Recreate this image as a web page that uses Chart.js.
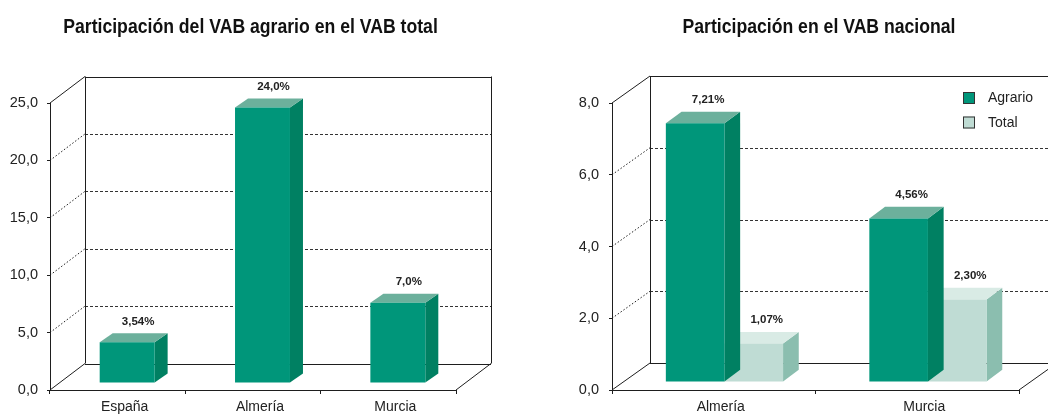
<!DOCTYPE html>
<html><head><meta charset="utf-8">
<script src="https://cdn.jsdelivr.net/npm/chart.js@4.4.1/dist/chart.umd.min.js"></script>
<style>
html,body{margin:0;padding:0;background:#fff;overflow:hidden;width:1048px;height:414px}
#c1{position:absolute;left:0;top:0}
#c2{position:absolute;left:524px;top:0}
</style></head><body>
<canvas id="c1" width="524" height="414"></canvas>
<canvas id="c2" width="524" height="414"></canvas>
<script>
// ---- data ----
const title1 = 'Participación del VAB agrario en el VAB total';
const categories1 = ['España', 'Almería', 'Murcia'];
const values1 = [3.54, 24.0, 7.0];
const valueLabels1 = ['3,54%', '24,0%', '7,0%'];
const yTicks1 = ['0,0', '5,0', '10,0', '15,0', '20,0', '25,0'];

const title2 = 'Participación en el VAB nacional';
const categories2 = ['Almería', 'Murcia'];
const seriesNames2 = ['Agrario', 'Total'];
const agrario2 = [7.21, 4.56];
const total2 = [1.07, 2.30];
const valueLabelsAgrario2 = ['7,21%', '4,56%'];
const valueLabelsTotal2 = ['1,07%', '2,30%'];
const yTicks2 = ['0,0', '2,0', '4,0', '6,0', '8,0'];

// ---- styles ----
const FONT = '"Liberation Sans", Arial, Helvetica, sans-serif';
const LINE = '#1e1e1e';
const GREEN = {front: '#00967A', side: '#008062', top: '#6CB09C'};
const LIGHT = {front: '#BFDCD4', side: '#8BBEAF', top: '#D9EBE5'};
Chart.defaults.font.family = FONT;
Chart.defaults.color = '#222';

const box3d = {
  id: 'box3d',
  beforeDatasetsDraw(chart, args, o) {
    const ctx = chart.ctx, a = chart.chartArea, ys = chart.scales.y;
    const L = a.left, R = a.right, T = a.top, B = a.bottom;
    ctx.save();
    ctx.strokeStyle = LINE; ctx.lineWidth = 1;
    const line = (x1, y1, x2, y2, dash) => {
      ctx.setLineDash(dash || []);
      ctx.beginPath(); ctx.moveTo(x1, y1); ctx.lineTo(x2, y2); ctx.stroke();
    };
    const h = v => Math.round(v) + 0.5;
    ys.ticks.forEach(t => {
      const py = ys.getPixelForValue(t.value);
      const edge = t.value === ys.min || t.value === ys.max;
      line(L, py, L + o.dx, py + o.dy, edge ? [] : [1.5, 2]);
      ctx.strokeStyle = edge ? LINE : '#333';
      line(L + o.dx, h(py + o.dy), R + o.dx, h(py + o.dy), edge ? [] : [3, 2]);
      ctx.strokeStyle = LINE;
    });
    line(h(L + o.dx), T + o.dy, h(L + o.dx), B + o.dy);
    line(h(R + o.dx), T + o.dy, h(R + o.dx), B + o.dy);
    line(R, B, R + o.dx, B + o.dy);
    ctx.restore();
  },
  beforeDatasetDraw(chart, args, o) {
    const ctx = chart.ctx;
    const c = o.colors[args.index];
    ctx.save();
    ctx.translate(o.sx, o.sy);
    args.meta.data.forEach(el => {
      const {x, y, base, width} = el.getProps(['x', 'y', 'base', 'width'], true);
      const l = x - width / 2, r = x + width / 2;
      ctx.fillStyle = c.side;
      ctx.beginPath();
      ctx.moveTo(r, y); ctx.lineTo(r + o.bdx, y + o.bdy);
      ctx.lineTo(r + o.bdx, base + o.bdy); ctx.lineTo(r, base);
      ctx.closePath(); ctx.fill();
      ctx.fillStyle = c.top;
      ctx.beginPath();
      ctx.moveTo(l, y); ctx.lineTo(l + o.bdx, y + o.bdy);
      ctx.lineTo(r + o.bdx, y + o.bdy); ctx.lineTo(r, y);
      ctx.closePath(); ctx.fill();
    });
  },
  afterDatasetDraw(chart) {
    chart.ctx.restore();
  },
  afterDatasetsDraw(chart, args, o) {
    const ctx = chart.ctx;
    ctx.save();
    ctx.font = 'bold 11.5px ' + FONT;
    ctx.fillStyle = '#222';
    ctx.textAlign = 'center';
    ctx.textBaseline = 'middle';
    chart.data.datasets.forEach((ds, i) => {
      chart.getDatasetMeta(i).data.forEach((el, j) => {
        const {x, y} = el.getProps(['x', 'y'], true);
        ctx.fillText(ds.valueLabels[j], x + o.sx + o.lx, y + o.sy + o.bdy - 12);
      });
    });
    if (o.legend) {
      const lg = o.legend;
      ctx.font = '14px ' + FONT;
      ctx.textAlign = 'left';
      chart.data.datasets.forEach((ds, i) => {
        const top = lg.y + i * lg.gap;
        ctx.fillStyle = o.colors[i].front;
        ctx.fillRect(lg.x, top, 12, 12);
        ctx.strokeStyle = '#333'; ctx.lineWidth = 1;
        ctx.strokeRect(lg.x + 0.5, top + 0.5, 11, 11);
        ctx.fillStyle = '#222';
        ctx.fillText(ds.label, lg.x + 25, top + 6.5);
      });
    }
    // condensed bold title
    const a = chart.chartArea;
    ctx.font = 'bold 20.5px ' + FONT;
    ctx.fillStyle = '#111';
    ctx.textAlign = 'center';
    ctx.textBaseline = 'alphabetic';
    ctx.translate((a.left + a.right) / 2 + o.titleDx, 33);
    ctx.scale(0.86, 1);
    ctx.fillText(o.title, 0, 0);
    ctx.restore();
  }
};

function makeOptions(yMax, step, yTicks, yWidth, padRight, labelPad, p3d) {
  return {
    responsive: false,
    animation: false,
    events: [],
    layout: {padding: {left: 0, right: padRight, top: 103, bottom: 0}},
    plugins: {
      legend: {display: false},
      tooltip: {enabled: false},
      title: {display: false},
      box3d: p3d
    },
    scales: {
      x: {
        grid: {display: true, drawOnChartArea: false, drawTicks: true, tickLength: 4, color: LINE, offset: true},
        border: {display: true, color: LINE, width: 1},
        ticks: {font: {size: 14}, color: '#222', padding: 5, labelOffset: 7, maxRotation: 0},
        afterFit(s) { s.height = 24; }
      },
      y: {
        min: 0, max: yMax,
        grid: {display: true, drawOnChartArea: false, drawTicks: true, tickLength: 3, color: LINE},
        border: {display: true, color: LINE, width: 1},
        ticks: {stepSize: step, font: {size: 14.5}, color: '#222', padding: labelPad,
                callback: (v, i) => yTicks[i]},
        afterFit(s) { s.width = yWidth; }
      }
    }
  };
}

new Chart(document.getElementById('c1'), {
  type: 'bar',
  data: {
    labels: categories1,
    datasets: [{
      label: 'VAB agrario', data: values1, valueLabels: valueLabels1,
      backgroundColor: GREEN.front, borderWidth: 0,
      categoryPercentage: 0.406, barPercentage: 1, clip: false
    }]
  },
  options: makeOptions(25, 5, yTicks1, 50, 68, 9,
    {dx: 35, dy: -26.5, sx: 9.5, sy: -7, bdx: 13, bdy: -9, lx: 11, colors: [GREEN],
     title: title1, titleDx: -2.5}),
  plugins: [box3d]
});

new Chart(document.getElementById('c2'), {
  type: 'bar',
  data: {
    labels: categories2,
    datasets: [
      {label: seriesNames2[0], data: agrario2, valueLabels: valueLabelsAgrario2,
       backgroundColor: GREEN.front, borderWidth: 0,
       categoryPercentage: 0.576, barPercentage: 1, clip: false},
      {label: seriesNames2[1], data: total2, valueLabels: valueLabelsTotal2,
       backgroundColor: LIGHT.front, borderWidth: 0,
       categoryPercentage: 0.576, barPercentage: 1, clip: false}
    ]
  },
  options: makeOptions(8, 2, yTicks2, 88, 29, 10,
    {dx: 38, dy: -27, sx: 10.7, sy: -8, bdx: 15.7, bdy: -11.7, lx: 13,
     colors: [GREEN, LIGHT], legend: {x: 439, y: 92, gap: 24.5},
     title: title2, titleDx: 3.5}),
  plugins: [box3d]
});
</script>
</body></html>
